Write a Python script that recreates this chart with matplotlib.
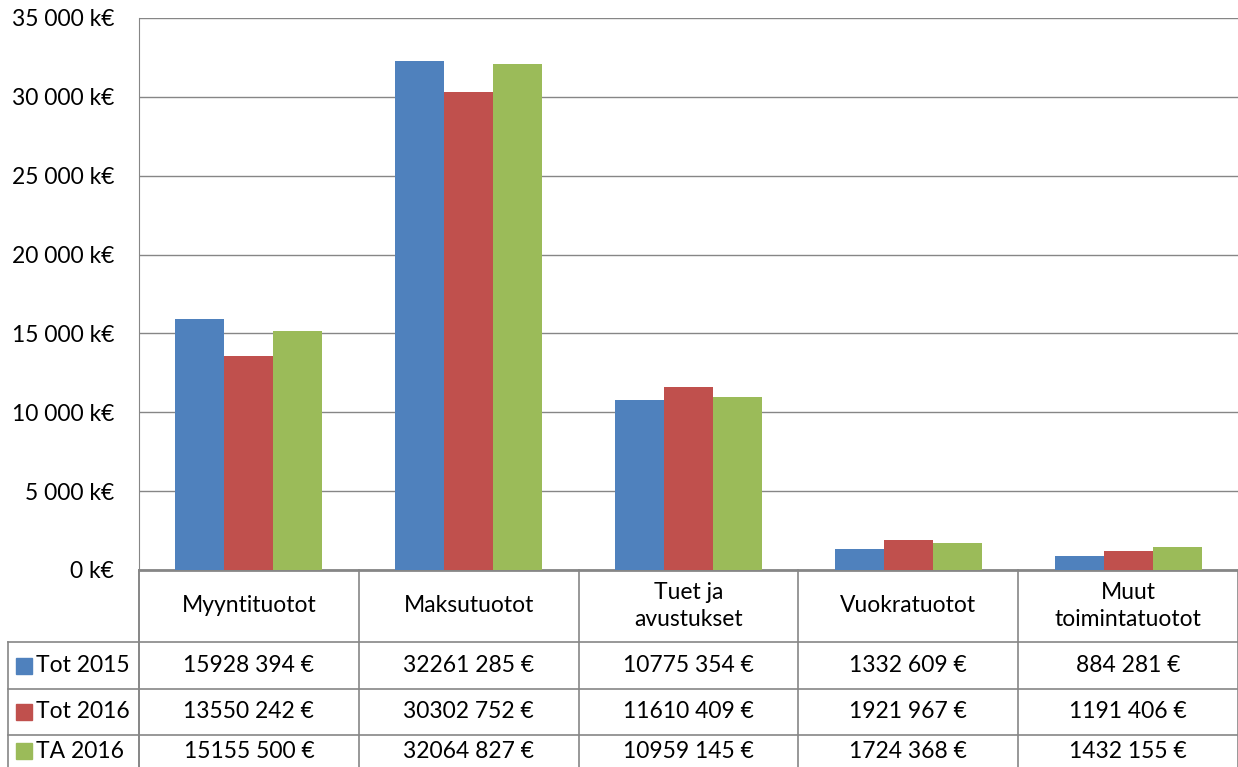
import matplotlib.pyplot as plt
import matplotlib.ticker as mticker
from matplotlib.lines import Line2D
from matplotlib.patches import Rectangle
import numpy as np

plt.rcParams['font.family'] = ['Lato', 'DejaVu Sans']

categories = ['Myyntituotot', 'Maksutuotot', 'Tuet ja\navustukset', 'Vuokratuotot', 'Muut\ntoimintatuotot']
series_names = ['Tot 2015', 'Tot 2016', 'TA 2016']
tot_2015 = [15928394, 32261285, 10775354, 1332609, 884281]
tot_2016 = [13550242, 30302752, 11610409, 1921967, 1191406]
ta_2016 = [15155500, 32064827, 10959145, 1724368, 1432155]
colors = ['#4F81BD', '#C0504D', '#9BBB59']

series = [tot_2015, tot_2016, ta_2016]
fs = 16.5

W, H = 1238, 767
fig = plt.figure(figsize=(W / 100, H / 100), dpi=100)
ax = fig.add_axes([139 / W, 1 - 570 / H, 1 - 139 / W, (570 - 18) / H])

x = np.arange(len(categories))
bw = 0.223
for i, (vals, col) in enumerate(zip(series, colors)):
    ax.bar(x + (i - 1) * bw, np.array(vals) / 1000, width=bw, color=col, zorder=3)

ax.set_xlim(-0.5, len(categories) - 0.5)
ax.set_ylim(0, 35000)
ax.yaxis.set_major_locator(mticker.MultipleLocator(5000))
ax.yaxis.set_major_formatter(mticker.FuncFormatter(
    lambda v, p: '{:,.0f} k€'.format(v).replace(',', ' ')))
ax.grid(axis='y', color='#868686', linewidth=1, zorder=0)
ax.tick_params(axis='y', length=0, pad=18, labelsize=fs)
ax.tick_params(axis='x', length=0, labelbottom=False)
for s in ['top', 'right', 'bottom']:
    ax.spines[s].set_visible(False)
ax.spines['left'].set_color('#868686')
ax.spines['left'].set_bounds(0, 35000)

# data table below the axes
line_col = '#868686'
ax_h = 570 - 18
def yf(py):
    return -(py - 570) / ax_h

tr = ax.get_xaxis_transform()
ax.add_line(Line2D([-0.5, 4.5], [0, 0], transform=tr, color=line_col, lw=2, clip_on=False))
for py in [642, 689, 735]:
    fig.add_artist(Line2D([8 / W, 1], [1 - py / H, 1 - py / H], color=line_col, lw=1.2))
for k in range(len(categories) + 1):
    ax.add_line(Line2D([k - 0.5, k - 0.5], [yf(570), yf(767)], transform=tr,
                       color=line_col, lw=1.2, clip_on=False))
fig.add_artist(Line2D([139 / W, 139 / W], [1 - 570 / H, 0], color=line_col, lw=1.2))
fig.add_artist(Line2D([8 / W, 8 / W], [1 - 642 / H, 0], color=line_col, lw=1.2))

# header row
for k, c in enumerate(categories):
    ax.text(k, yf(606), c, transform=tr, ha='center', va='center', fontsize=fs,
            linespacing=1.35, clip_on=False)

# value rows
row_mid = [665.5, 712, 751]
for r, (name, vals, col) in enumerate(zip(series_names, series, colors)):
    ym = 1 - row_mid[r] / H
    fig.add_artist(Rectangle((16 / W, ym - 8 / H), 16 / W, 16 / H, color=col))
    fig.text(36 / W, ym, name, ha='left', va='center', fontsize=fs)
    for k, v in enumerate(vals):
        s = '{:,d}'.format(v).replace(',', ' ')
        s = s[:-4].replace(' ', '') + s[-4:] + ' €'
        ax.text(k, yf(row_mid[r]), s, transform=tr, ha='center', va='center',
                fontsize=fs, clip_on=False)

fig.savefig('out.png', dpi=100)
